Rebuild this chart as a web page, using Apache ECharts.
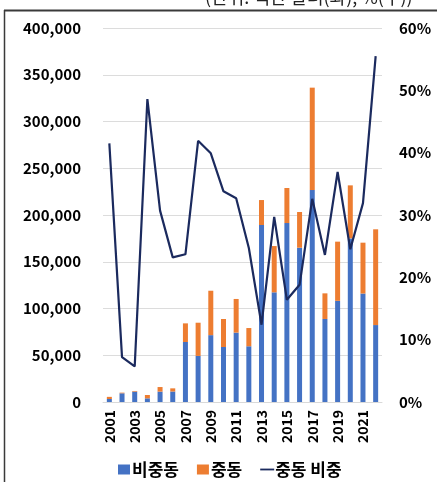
<!DOCTYPE html>
<html>
<head>
<meta charset="utf-8">
<script src="https://cdn.jsdelivr.net/npm/echarts@6/dist/echarts.min.js"></script>
<style>
  html, body { margin: 0; padding: 0; background: #fff; }
  #chart { width: 437px; height: 482px; }
</style>
</head>
<body>
<div id="chart"></div>
<script>
// Years on the category axis
const years = ['2001','2002','2003','2004','2005','2006','2007','2008','2009','2010','2011',
               '2012','2013','2014','2015','2016','2017','2018','2019','2020','2021','2022'];

// Non-Middle-East amounts (left axis)
const nonMideast = [3200, 9300, 11100, 3900, 11100, 11200, 64200, 49300, 71500, 58800, 74200,
                    59600, 189300, 117300, 191400, 165000, 226700, 88800, 108200, 175000, 116000, 82300];

// Middle-East amounts (left axis)
const mideast = [2300, 700, 700, 3600, 4900, 3400, 19900, 35500, 47500, 30000, 36000,
                 19500, 26700, 49500, 37500, 38200, 109500, 27400, 63300, 56700, 54400, 102400];

// Middle-East share, % (right axis)
const mideastShare = [41.5, 7.2, 5.7, 48.6, 30.7, 23.2, 23.7, 41.9, 39.9, 33.8, 32.7,
                      24.7, 12.4, 29.7, 16.4, 18.8, 32.6, 23.6, 36.9, 24.5, 31.9, 55.5];

const seriesNames = ['비중동', '중동', '중동 비중'];
const unitNote = '(단위: 백만 달러(좌), %(우))';

const FONT = '"Noto Sans CJK KR", "Noto Sans", sans-serif';
const BLUE = '#4472C4';
const ORANGE = '#ED7D31';
const NAVY = '#1B2A5E';

const chart = echarts.init(document.getElementById('chart'), null, { renderer: 'canvas' });

chart.setOption({
  backgroundColor: '#ffffff',
  animation: false,
  textStyle: { fontFamily: FONT },
  grid: { left: 103, right: 55, top: 28, bottom: 80, containLabel: false },
  legend: {
    data: [
      { name: seriesNames[0], icon: 'path://M0,0h12v10h-12z' },
      { name: seriesNames[1], icon: 'path://M0,0h12v10h-12z' },
      { name: seriesNames[2], icon: 'path://M0,0h14v1.8h-14z' }
    ],
    left: 113,
    top: 456,
    itemWidth: 14,
    itemHeight: 10,
    itemGap: 18,
    textStyle: { fontFamily: FONT, fontSize: 17, fontWeight: 'bold', color: '#000', padding: [0, 0, 0, -4] }
  },
  xAxis: {
    type: 'category',
    data: years,
    axisLine: { show: true, lineStyle: { color: '#d9d9d9', width: 1 } },
    axisTick: { show: false },
    axisLabel: {
      interval: 1,
      rotate: 90,
      margin: 8,
      fontFamily: FONT,
      fontSize: 14,
      fontWeight: 'bold',
      color: '#000'
    }
  },
  yAxis: [
    {
      type: 'value',
      min: 0,
      max: 400000,
      interval: 50000,
      axisLine: { show: false },
      axisTick: { show: false },
      splitLine: { lineStyle: { color: '#dcdcdc', width: 1 } },
      axisLabel: {
        margin: 22,
        fontFamily: FONT,
        fontSize: 15,
        fontWeight: 'bold',
        color: '#000',
        formatter: v => v.toLocaleString('en-US')
      }
    },
    {
      type: 'value',
      min: 0,
      max: 60,
      interval: 10,
      axisLine: { show: false },
      axisTick: { show: false },
      splitLine: { show: false },
      axisLabel: {
        margin: 17,
        fontFamily: FONT,
        fontSize: 15,
        fontWeight: 'bold',
        color: '#000',
        formatter: v => v + '%'
      }
    }
  ],
  series: [
    {
      name: seriesNames[0],
      type: 'bar',
      stack: 'amount',
      data: nonMideast,
      barWidth: 5,
      itemStyle: { color: BLUE }
    },
    {
      name: seriesNames[1],
      type: 'bar',
      stack: 'amount',
      data: mideast,
      barWidth: 5,
      itemStyle: { color: ORANGE }
    },
    {
      name: seriesNames[2],
      type: 'line',
      yAxisIndex: 1,
      data: mideastShare,
      symbol: 'none',
      showSymbol: false,
      lineStyle: { color: NAVY, width: 2.2 },
      itemStyle: { color: NAVY },
      z: 5
    }
  ],
  graphic: [
    {
      type: 'text',
      left: 205,
      top: -12,
      style: {
        text: unitNote,
        fontFamily: FONT,
        fontSize: 18,
        fill: '#222'
      }
    },
    {
      type: 'line',
      shape: { x1: 4, y1: 10.5, x2: 437, y2: 10.5 },
      style: { stroke: '#3a3a3a', lineWidth: 2 }
    },
    {
      type: 'line',
      shape: { x1: 4.5, y1: 10, x2: 4.5, y2: 482 },
      style: { stroke: '#3a3a3a', lineWidth: 1.5 }
    }
  ]
});
</script>
</body>
</html>
